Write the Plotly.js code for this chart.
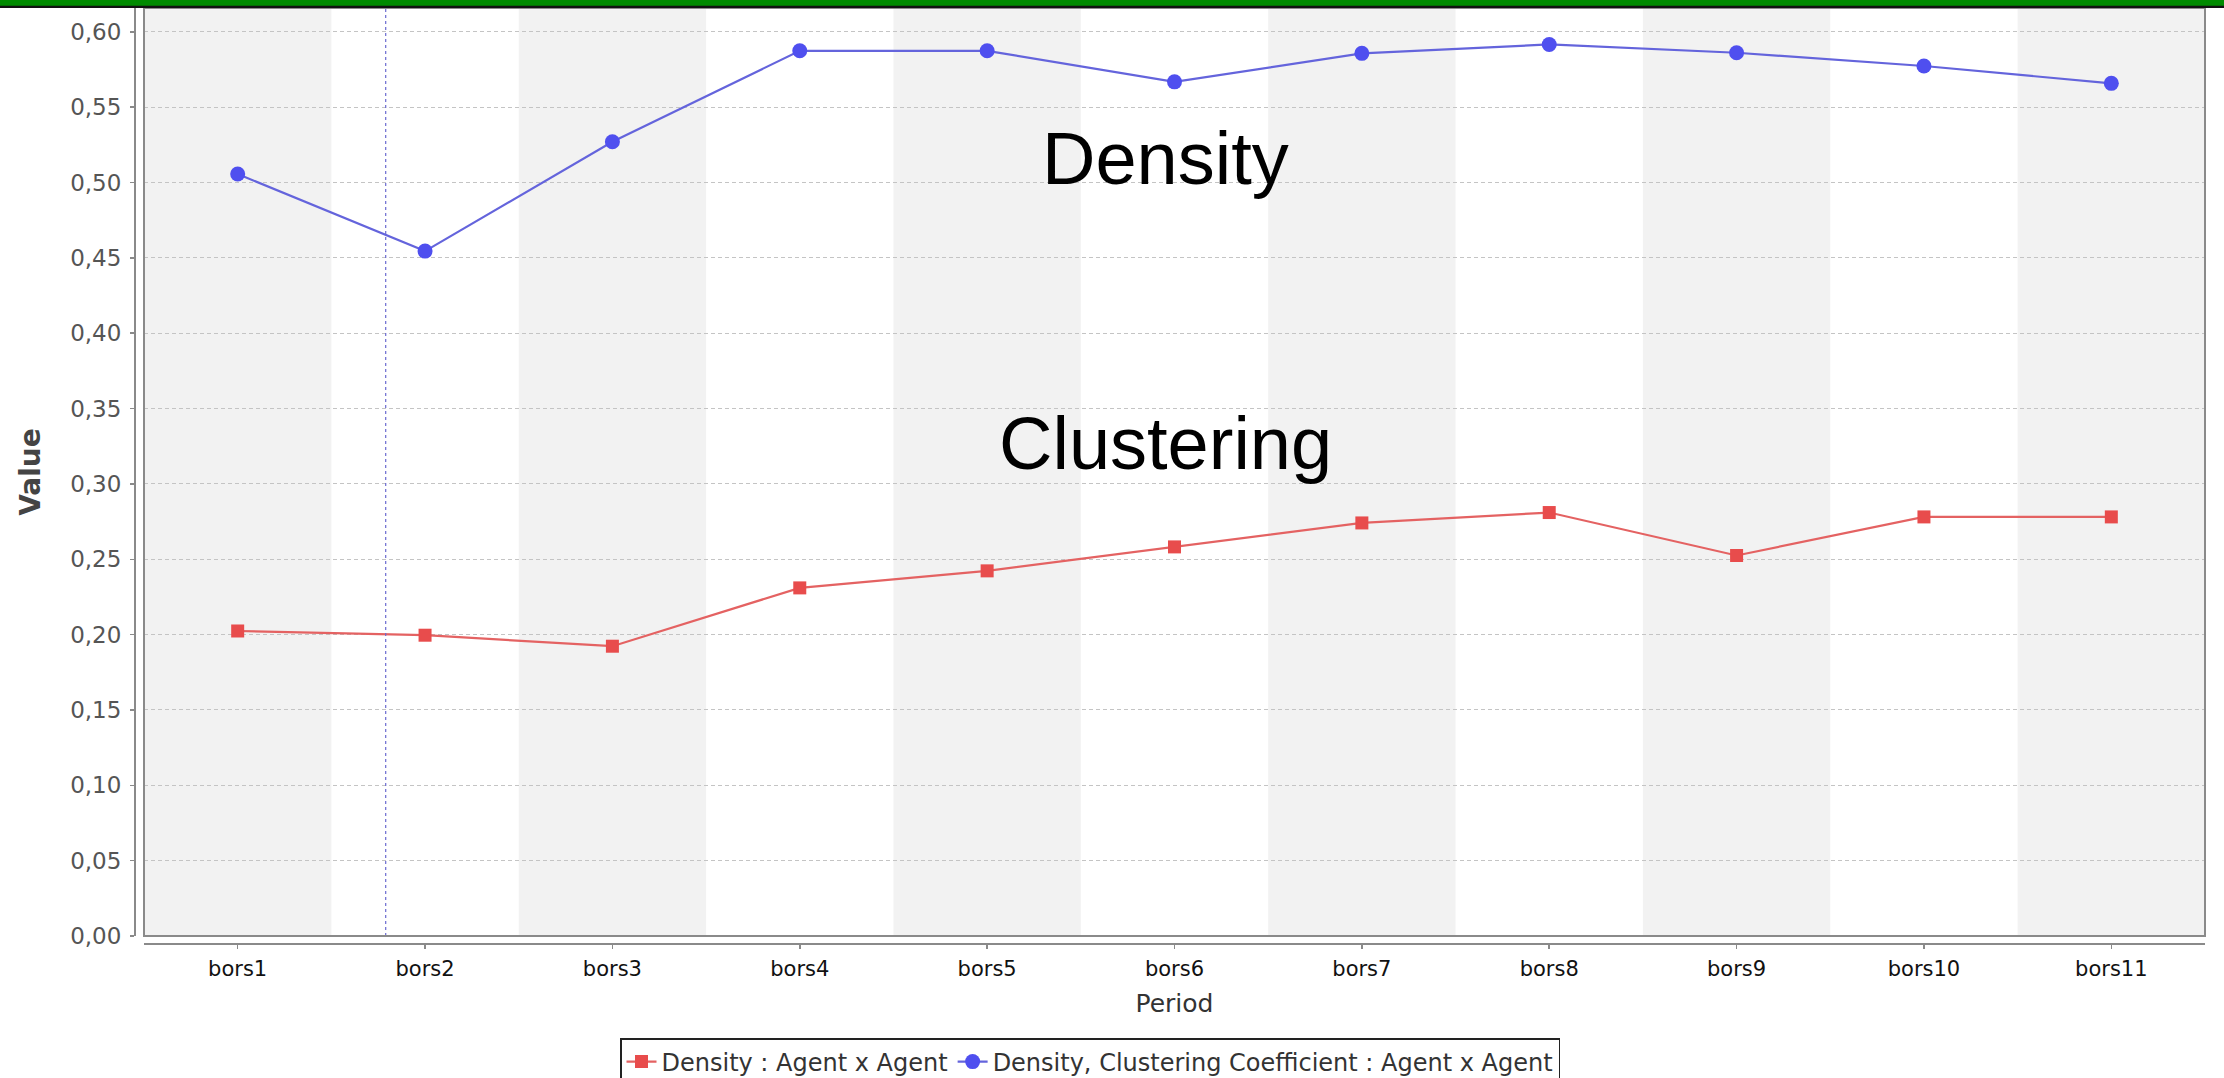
<!DOCTYPE html>
<html>
<head>
<meta charset="utf-8">
<script src="https://cdn.plot.ly/plotly-3.0.1.min.js"></script>
<style>
  html, body { margin: 0; padding: 0; background: #ffffff; }
  #chart { width: 2224px; height: 1078px; }
</style>
</head>
<body>
<div id="chart"></div>
<script>
// ---- data ----
const categories = ['bors1', 'bors2', 'bors3', 'bors4', 'bors5', 'bors6', 'bors7', 'bors8', 'bors9', 'bors10', 'bors11'];
const densityValues = [0.2024, 0.1996, 0.1923, 0.2310, 0.2423, 0.2582, 0.2741, 0.2810, 0.2525, 0.2781, 0.2781];
const clusteringValues = [0.5056, 0.4545, 0.5270, 0.5874, 0.5874, 0.5668, 0.5857, 0.5916, 0.5861, 0.5773, 0.5658];
const seriesNames = ['Density : Agent x Agent', 'Density, Clustering Coefficient : Agent x Agent'];
const yTickValues = [0, 0.05, 0.10, 0.15, 0.20, 0.25, 0.30, 0.35, 0.40, 0.45, 0.50, 0.55, 0.60];
const annotationTexts = ['Density', 'Clustering'];
const xTitle = 'Period';
const yTitle = 'Value';

// ---- layout constants ----
const W = 2224, H = 1078;
const M = { l: 135, r: 19, t: 8, b: 134, autoexpand: false };
const PW = W - M.l - M.r, PH = H - M.t - M.b;
const AXIS_GAP_X = 9, AXIS_GAP_Y = 8;
const CROSSHAIR_X = 0.79;

const red = '#e84c4c', blue = '#4f4fef';

const traces = [
  {
    x: categories, y: densityValues, name: seriesNames[0],
    type: 'scatter', mode: 'lines+markers',
    line: { color: '#e46262', width: 2.2 },
    marker: { symbol: 'square', size: 13, color: red }
  },
  {
    x: categories, y: clusteringValues, name: seriesNames[1],
    type: 'scatter', mode: 'lines+markers',
    line: { color: '#6464dc', width: 2.2 },
    marker: { symbol: 'circle', size: 15, color: blue }
  }
];

const shapes = [];
// alternating category bands
categories.forEach((c, i) => {
  if (i % 2 === 0) {
    shapes.push({ type: 'rect', xref: 'x', yref: 'y domain', x0: i - 0.5, x1: i + 0.5, y0: 0, y1: 1,
      fillcolor: '#f2f2f2', line: { width: 0 }, layer: 'below' });
  }
});
// crosshair
shapes.push({ type: 'line', xref: 'x', yref: 'y domain', x0: CROSSHAIR_X, x1: CROSSHAIR_X, y0: 0, y1: 1,
  line: { color: '#6a6ad0', width: 1.2, dash: 'dot' }, layer: 'above' });
// plot border
shapes.push({ type: 'rect', xref: 'x domain', yref: 'y domain', x0: 0, x1: 1, y0: 0, y1: 1,
  line: { color: '#8a8a8a', width: 2 }, fillcolor: 'rgba(0,0,0,0)', layer: 'above' });
// green bar at top
shapes.push({ type: 'rect', xref: 'paper', yref: 'paper', x0: -M.l / PW, x1: 1 + M.r / PW,
  y0: 1 + 2 / PH, y1: 1 + 10 / PH, fillcolor: '#008a00', line: { width: 0 }, layer: 'above' });
shapes.push({ type: 'rect', xref: 'paper', yref: 'paper', x0: -M.l / PW, x1: 1 + M.r / PW,
  y0: 1 + 0 / PH, y1: 1 + 2.2 / PH, fillcolor: '#111111', line: { width: 0 }, layer: 'above' });

const layout = {
  width: W, height: H,
  margin: M,
  paper_bgcolor: '#ffffff',
  plot_bgcolor: '#ffffff',
  separators: ', ',
  showlegend: true,
  hovermode: false,
  font: { family: 'DejaVu Sans, sans-serif', color: '#444' },
  xaxis: {
    type: 'category',
    domain: [AXIS_GAP_X / PW, 1],
    anchor: 'free', position: 0,
    range: [-0.5, categories.length - 0.5],
    showgrid: false, zeroline: false,
    showline: true, linecolor: '#8a8a8a', linewidth: 2,
    ticks: 'outside', ticklen: 4, tickwidth: 1.5, tickcolor: '#8a8a8a',
    ticklabelstandoff: 2,
    tickfont: { family: 'DejaVu Sans, sans-serif', size: 21, color: '#111' },
    title: { text: xTitle, font: { family: 'DejaVu Sans, sans-serif', size: 25, color: '#333' }, standoff: 13 }
  },
  yaxis: {
    domain: [AXIS_GAP_Y / PH, 1],
    anchor: 'free', position: 0,
    range: [0, 0.6158],
    tickvals: yTickValues, tickformat: '.2f',
    showgrid: true, gridcolor: '#c4c4c4', gridwidth: 1, griddash: '4px,3px',
    zeroline: false,
    showline: true, linecolor: '#8a8a8a', linewidth: 2,
    ticks: 'outside', ticklen: 4, tickwidth: 1.5, tickcolor: '#8a8a8a',
    ticklabelstandoff: 4,
    tickfont: { family: 'DejaVu Sans, sans-serif', size: 23, color: '#555' },
    title: { text: yTitle, font: { family: 'DejaVu Sans, sans-serif', size: 28, color: '#444', weight: 'bold' }, standoff: 20 }
  },
  legend: {
    orientation: 'h',
    x: (620 - M.l) / PW, xanchor: 'left',
    y: -(1038 - (H - M.b)) / PH, yanchor: 'top',
    bgcolor: '#ffffff', bordercolor: '#222', borderwidth: 1.5,
    font: { family: 'DejaVu Sans, sans-serif', size: 24, color: '#333' },
    itemwidth: 30
  },
  shapes: shapes,
  annotations: [
    { text: annotationTexts[0], xref: 'paper', yref: 'y', x: (1165 - M.l) / PW, y: 0.5157,
      xanchor: 'center', yanchor: 'middle', showarrow: false,
      font: { family: 'Liberation Sans, Arial, sans-serif', size: 74, color: '#000' } },
    { text: annotationTexts[1], xref: 'paper', yref: 'y', x: (1165 - M.l) / PW, y: 0.3266,
      xanchor: 'center', yanchor: 'middle', showarrow: false,
      font: { family: 'Liberation Sans, Arial, sans-serif', size: 74, color: '#000' } }
  ]
};

Plotly.newPlot('chart', traces, layout, { displayModeBar: false, staticPlot: true });
</script>
</body>
</html>
